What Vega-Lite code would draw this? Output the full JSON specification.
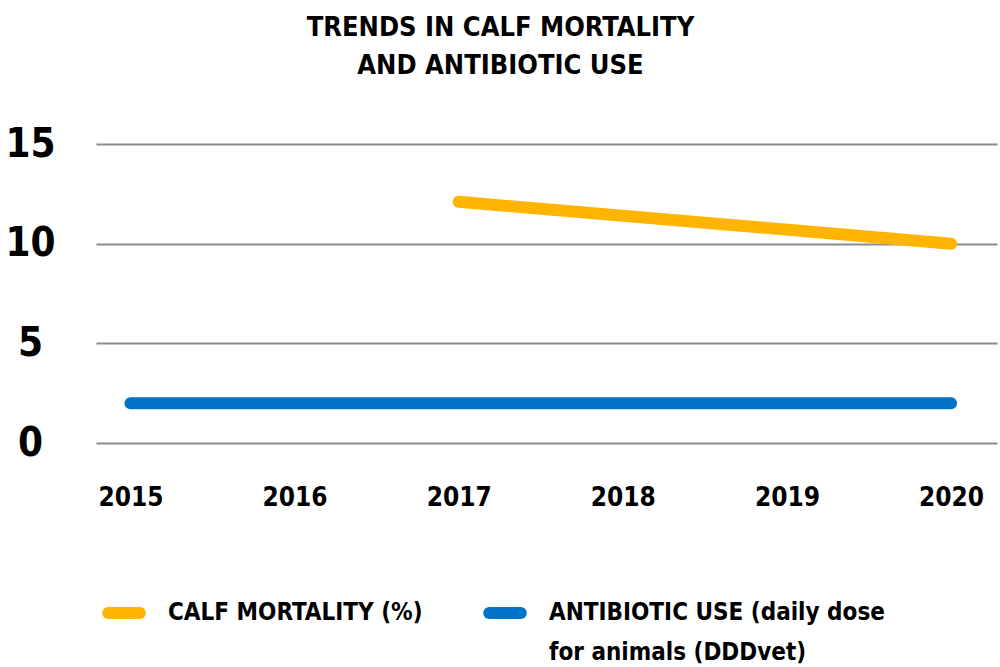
{
  "$schema": "https://vega.github.io/schema/vega-lite/v6.json",
  "description": "Trends in calf mortality and antibiotic use",
  "width": 901,
  "height": 299,
  "autosize": {"type": "none"},
  "padding": {"left": 96, "top": 144, "right": 3, "bottom": 224},
  "title": {
    "text": ["TRENDS IN CALF MORTALITY", "AND ANTIBIOTIC USE"],
    "anchor": "middle",
    "dx": -46,
    "offset": 44,
    "fontSize": 27,
    "lineHeight": 38,
    "font": "DejaVu Sans Condensed, sans-serif",
    "fontWeight": "bold",
    "color": "#000000"
  },
  "data": {
    "values": [
      {"year": 2015, "series": "ANTIBIOTIC USE (daily dose for animals (DDDvet)", "value": 2.0},
      {"year": 2016, "series": "ANTIBIOTIC USE (daily dose for animals (DDDvet)", "value": 2.0},
      {"year": 2017, "series": "ANTIBIOTIC USE (daily dose for animals (DDDvet)", "value": 2.0},
      {"year": 2018, "series": "ANTIBIOTIC USE (daily dose for animals (DDDvet)", "value": 2.0},
      {"year": 2019, "series": "ANTIBIOTIC USE (daily dose for animals (DDDvet)", "value": 2.0},
      {"year": 2020, "series": "ANTIBIOTIC USE (daily dose for animals (DDDvet)", "value": 2.0},
      {"year": 2017, "series": "CALF MORTALITY (%)", "value": 12.1},
      {"year": 2020, "series": "CALF MORTALITY (%)", "value": 10.0}
    ]
  },
  "mark": {"type": "line", "strokeWidth": 12, "strokeCap": "round", "strokeJoin": "round"},
  "encoding": {
    "x": {
      "field": "year",
      "type": "quantitative",
      "scale": {"domain": [2014.79, 2020.28], "nice": false, "zero": false},
      "axis": {
        "values": [2015, 2016, 2017, 2018, 2019, 2020],
        "format": "d",
        "grid": false,
        "domain": false,
        "ticks": false,
        "title": null,
        "labelFontSize": 26,
        "labelBaseline": "middle",
        "labelPadding": 54
      }
    },
    "y": {
      "field": "value",
      "type": "quantitative",
      "scale": {"domain": [0, 15], "nice": false},
      "axis": {
        "values": [0, 5, 10, 15],
        "domain": false,
        "ticks": false,
        "title": null,
        "gridColor": "#8c8c8c",
        "gridWidth": 2,
        "labelFontSize": 40,
        "labelAlign": "center",
        "labelPadding": 66
      }
    },
    "color": {
      "field": "series",
      "type": "nominal",
      "scale": {
        "domain": ["CALF MORTALITY (%)", "ANTIBIOTIC USE (daily dose for animals (DDDvet)"],
        "range": ["#FFB400", "#0073C8"]
      },
      "legend": {
        "orient": "none",
        "legendX": 6,
        "legendY": 447,
        "direction": "horizontal",
        "columns": 2,
        "title": null,
        "symbolType": "stroke",
        "symbolStrokeWidth": 12,
        "symbolSize": 1000,
        "labelFontSize": 24,
        "labelLimit": 600,
        "labelOffset": 22,
        "labelBaseline": "middle",
        "columnPadding": 42,
        "labelExpr": "indexof(datum.label, 'ANTIBIOTIC') == 0 ? ['ANTIBIOTIC USE (daily dose', 'for animals (DDDvet)'] : [datum.label, '']",
        "encode": {
          "labels": {"update": {"lineHeight": {"value": 40}}},
          "symbols": {"update": {"strokeCap": {"value": "round"}}}
        }
      }
    }
  },
  "config": {
    "view": {"stroke": null},
    "font": "DejaVu Sans Condensed, sans-serif",
    "axis": {"labelFont": "DejaVu Sans Condensed, sans-serif", "labelFontWeight": "bold", "labelColor": "#000000"},
    "legend": {"labelFont": "DejaVu Sans Condensed, sans-serif", "labelFontWeight": "bold", "labelColor": "#000000"}
  }
}
